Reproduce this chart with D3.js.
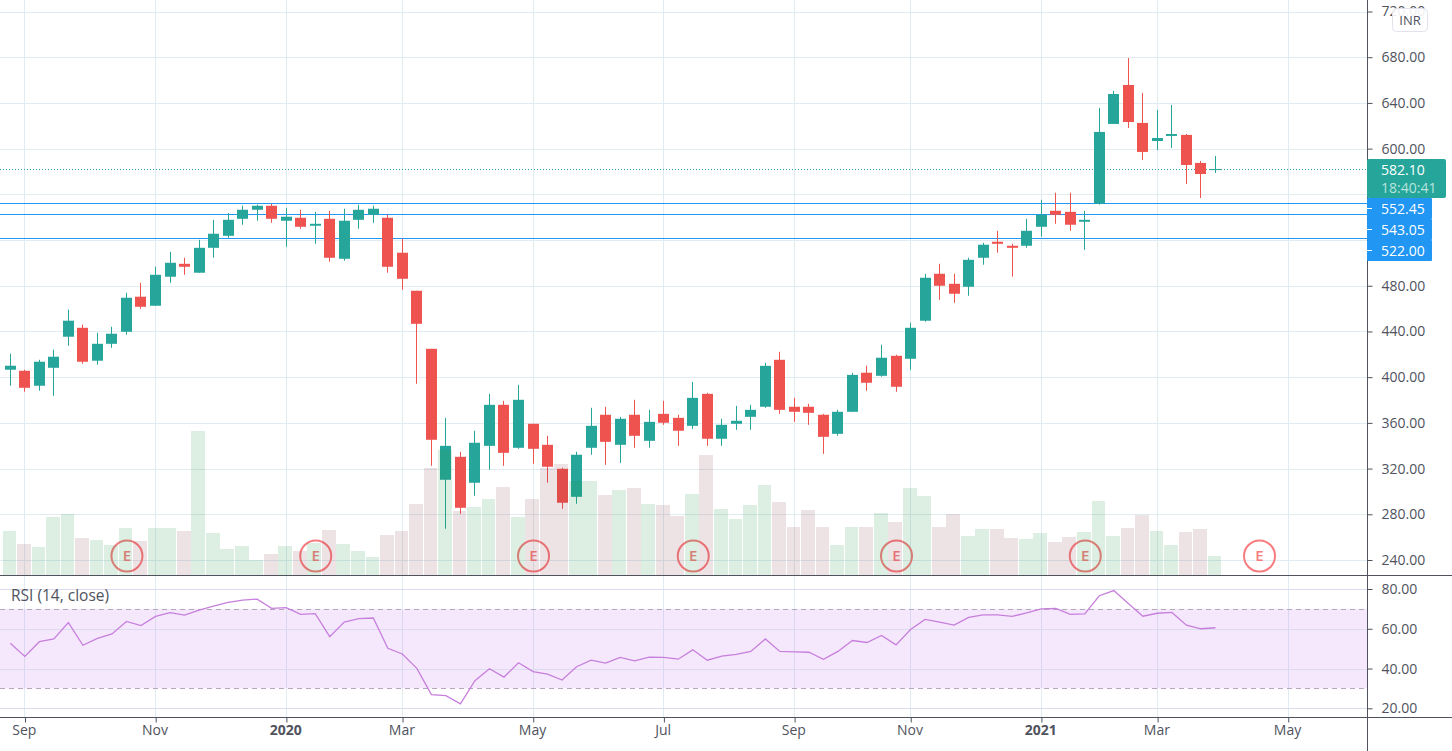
<!DOCTYPE html>
<html>
<head>
<meta charset="utf-8">
<script src="https://cdn.jsdelivr.net/npm/d3@7"></script>
<style>
  html, body { margin: 0; padding: 0; background: #fff; overflow: hidden; }
  text { font-family: "Open Sans", sans-serif; }
</style>
</head>
<body>
<div class="canvas"></div>
<script>
// weekly candles
const opens = [406.5,405.6,392.5,408.2,435.4,443.2,414.4,429.2,439.7,470.4,462.5,487.9,499.2,491.4,513.2,523.7,538.6,546.5,550,536.9,539.5,532.5,538.6,503.6,537.7,542.1,539.5,508.9,475.6,424.8,310.2,330.3,307.6,339.9,375.8,338.2,359.2,340.8,319.8,295.3,338.2,367.1,340.8,367.1,344.3,367.9,364.4,357.4,385.4,346.1,359.2,365.3,374.1,415.2,374.1,374.1,367.1,350.4,369.7,403.9,401.2,418.7,416.1,449.4,490.5,481.7,479.1,504.5,518.5,515,515,531.6,545.6,544.7,536,551.9,621.6,655.7,622.5,606.7,611.1,612,587.5,582]
const highs = [420.5,406.5,415.2,424,459,445.9,438.9,444.1,473.9,482.6,496.6,509.7,504.5,520.2,537.7,543.6,550,550.9,551.7,548.2,546.5,544.7,545.6,547.4,550.9,550,542.1,521.1,475.6,424.8,364.4,334.7,353.1,385.4,379.3,393.3,359.2,348.7,320.7,334.7,373.2,374.1,365.3,380.2,371.4,379.3,367.1,395.9,386.3,363.6,374.9,375.8,412.6,422.2,381.9,376.7,367.9,371.4,403.8,410,428.4,419.6,447.6,490.5,499.2,490.5,504.5,517.6,528.1,516.7,538.6,555.2,561.4,561.4,545.6,635.6,650.5,679.3,648.7,633.8,638.2,612.8,589.2,593.6]
const lows = [392.5,387.2,388.1,383.7,427.5,411.7,410.9,425.7,437.1,459.9,462.5,482.6,489.6,491.4,504.5,522,533.4,536.9,535.1,514.1,529.9,516.7,501,501.9,529.9,535.1,491.4,476.5,394.2,322.4,267.3,280.4,296.2,318.9,322.4,337.3,324.2,307.6,284.8,289.2,332.1,323.3,325,338.2,338.2,358.3,339.9,354.8,339.9,339.9,353.9,353.9,373.2,367.9,360.9,358.3,332.9,348.7,369.7,388.1,400.4,387.2,406.5,448.5,467.7,465.1,471.2,498.4,508.9,487.9,513.2,522.9,534.2,528.1,511.5,551,621.6,618.1,590.1,598.8,600.6,569.1,556.8,578.7]
const closes = [410,390.7,413.5,417.9,449.4,413.5,429.2,438,469.5,461.6,489.6,500.1,496.6,513.2,525.5,537.7,546.5,550,538.6,540.4,531.6,534.2,504.5,536.9,546.5,547.4,496.6,486.1,446.7,345.2,339.9,285.7,342.6,375.8,333.8,380.2,337.3,321.6,290.1,332.1,357.4,343.4,363.6,348.7,360.9,360.1,353.1,381.9,346.1,358.3,361.8,371.4,409.9,371.4,369.7,368.8,347.8,369.7,402,395.1,417,391.6,443.2,487,480,473,502.7,515.9,516.7,513.2,528.1,542.1,542.1,533.4,537.7,614.6,647.8,623.3,597.1,609.3,612.8,585.7,577.8,582.1]
const volumes = [44,31,28,58,61,37,35,30,47,34,47,47,44,144,42,26,29,15,21,29,24,32,45,31,24,18,40,44,71,107,125,64,68,76,88,58,76,107,111,94,94,80,85,87,71,70,59,81,120,66,56,70,90,73,48,65,48,30,48,48,62,53,87,79,48,61,39,46,46,37,36,42,33,38,43,74,39,47,60,44,30,43,46,19]
const rsi = [52.7,46.1,53.5,54.9,63.1,51.7,55.2,57.4,63.7,61.6,66.2,68.1,66.9,69.4,71.4,73.3,74.4,74.9,70.3,70.6,67.2,67.6,56,63.4,65.1,65.4,50.2,47.3,40.1,26.9,26.4,22.2,33.9,39.9,35.7,42.9,38.5,37.2,34.2,40.9,44.2,42.7,45.6,43.9,45.7,45.6,44.7,49.4,44.2,46.2,47.1,48.6,54.9,48.6,48.4,48.2,44.6,48.6,54.1,53.1,56.6,51.9,59.6,64.7,63.3,61.8,65.7,67,67,66.2,68,70,70.2,67.2,67.5,76.6,79.2,72.7,66.3,67.8,68.2,61.8,60,60.5]

const priceGrid = [720,680,640,600,560,520,480,440,400,360,320,280,240]
// 560 and 520 sit behind the price tags, so they get a grid line but no label
const priceTicks = [720,680,640,600,480,440,400,360,320,280,240]
const rsiTicks = [80,60,40,20]
const timeTicks = [1,10,19,27,36,45,54,62,71,79,88]
const timeLabels = ["Sep","Nov","2020","Mar","May","Jul","Sep","Nov","2021","Mar","May"]
const earnings = [8,21,36,47,61,74,86]
const levels = [552.45,543.05,522.00]
const lastPrice = 582.10
const countdown = "18:40:41"

const width = 1452, height = 751
const axisX = 1367, paneBottom = 575, rsiBottom = 717

const teal = "#26a69a", red = "#ef5350", blue = "#2196f3"
const gridColor = "#e1ecf2", axisColor = "#50535e"

const x = d3.scaleLinear().domain([0, 83]).range([10.3, 1215.46])
const y = d3.scaleLinear().domain([240, 720]).range([560, 11.5])
const yVol = d3.scaleLinear().domain([0, 144]).range([paneBottom, 431])
const yRsi = d3.scaleLinear().domain([20, 80]).range([708.3, 589])

const px = i => Math.floor(x(i)) + 0.5
const crisp = v => Math.round(v) + 0.5

const svg = d3.select(".canvas").append("svg")
    .attr("width", width)
    .attr("height", height)
    .style("display", "block")

// grid
const grid = svg.append("g").attr("stroke", gridColor).attr("stroke-width", 1)
grid.selectAll(".v").data(timeTicks).join("line")
    .attr("x1", d => px(d)).attr("x2", d => px(d))
    .attr("y1", 0).attr("y2", rsiBottom)
grid.selectAll(".h").data(priceGrid).join("line")
    .attr("x1", 0).attr("x2", axisX)
    .attr("y1", d => crisp(y(d))).attr("y2", d => crisp(y(d)))

// rsi band sits under its own grid
svg.append("rect")
    .attr("x", 0).attr("width", axisX)
    .attr("y", yRsi(70)).attr("height", yRsi(30) - yRsi(70))
    .attr("fill", "#a020f0").attr("fill-opacity", 0.1)
svg.append("g").selectAll("line").data(rsiTicks).join("line")
    .attr("x1", 0).attr("x2", axisX)
    .attr("y1", d => crisp(yRsi(d))).attr("y2", d => crisp(yRsi(d)))
    .attr("stroke", "#dcdcf0")
svg.append("g").selectAll("line").data([70, 30]).join("line")
    .attr("x1", 0).attr("x2", axisX)
    .attr("y1", d => crisp(yRsi(d))).attr("y2", d => crisp(yRsi(d)))
    .attr("stroke", "#b5a8bb").attr("stroke-dasharray", "5 4")

// last price line
svg.append("line")
    .attr("x1", 0).attr("x2", axisX)
    .attr("y1", crisp(y(lastPrice))).attr("y2", crisp(y(lastPrice)))
    .attr("stroke", teal).attr("stroke-dasharray", "1 2")

// support levels run behind the candles
svg.append("g").selectAll("line").data(levels).join("line")
    .attr("x1", 0).attr("x2", axisX)
    .attr("y1", d => crisp(y(d))).attr("y2", d => crisp(y(d)))
    .attr("stroke", blue)

// candles
const candles = svg.append("g")
const idx = d3.range(opens.length)
candles.selectAll(".wick").data(idx).join("line")
    .attr("x1", px).attr("x2", px)
    .attr("y1", i => y(highs[i])).attr("y2", i => y(lows[i]))
    .attr("stroke", i => closes[i] >= opens[i] ? teal : red)
candles.selectAll(".body").data(idx).join("rect")
    .attr("x", i => Math.floor(x(i)) - 5)
    .attr("width", 11)
    .attr("y", i => y(Math.max(opens[i], closes[i])))
    .attr("height", i => Math.max(1, Math.abs(y(opens[i]) - y(closes[i]))))
    .attr("fill", i => closes[i] >= opens[i] ? teal : red)

// earnings markers
const marks = svg.append("g").selectAll("g").data(earnings).join("g")
    .attr("transform", d => `translate(${x(d) + 0.5},556)`)
marks.append("circle")
    .attr("r", 15.5)
    .attr("fill", "none")
    .attr("stroke", "#f77c80").attr("stroke-width", 2)
marks.append("text")
    .attr("text-anchor", "middle").attr("dy", "0.36em")
    .attr("font-size", 15).attr("font-weight", 600)
    .attr("fill", "#f77c80")
    .text("E")

// volume goes over the candles, see-through
svg.append("g").selectAll("rect").data(idx).join("rect")
    .attr("x", i => Math.floor(x(i) - 7.3))
    .attr("width", i => Math.floor(x(i) + 6.5) - Math.floor(x(i) - 7.3))
    .attr("y", i => yVol(volumes[i]))
    .attr("height", i => paneBottom - yVol(volumes[i]))
    .attr("fill", i => closes[i] >= opens[i] ? "rgba(30,140,60,.15)" : "rgba(120,40,50,.13)")

// rsi line
svg.append("path")
    .datum(rsi)
    .attr("fill", "none")
    .attr("stroke", "#c77fdc")
    .attr("stroke-width", 1.3)
    .attr("d", d3.line().x((d, i) => x(i)).y(d => yRsi(d)))

svg.append("text")
    .attr("x", 11).attr("y", 601)
    .attr("font-size", 15.5).attr("fill", axisColor)
    .text("RSI (14, close)")

// pane borders
svg.append("line").attr("x1", 0).attr("x2", width).attr("y1", paneBottom + 0.5).attr("y2", paneBottom + 0.5).attr("stroke", axisColor)
svg.append("line").attr("x1", 0).attr("x2", width).attr("y1", rsiBottom + 0.5).attr("y2", rsiBottom + 0.5).attr("stroke", axisColor)

// axes
function styleAxis(g) {
    g.select(".domain").remove()
    g.selectAll(".tick line").attr("stroke", axisColor)
    g.selectAll(".tick text")
        .attr("fill", axisColor)
        .attr("font-size", 14)
        .attr("font-family", '"Open Sans", sans-serif')
}

svg.append("g")
    .attr("transform", `translate(${axisX + 0.5},0)`)
    .call(d3.axisRight(y).tickValues(priceTicks).tickSize(5).tickPadding(9).tickFormat(d3.format(".2f")))
    .call(styleAxis)
svg.append("g")
    .attr("transform", `translate(${axisX + 0.5},0)`)
    .call(d3.axisRight(yRsi).tickValues(rsiTicks).tickSize(5).tickPadding(9).tickFormat(d3.format(".2f")))
    .call(styleAxis)
svg.append("line").attr("x1", axisX + 0.5).attr("x2", axisX + 0.5).attr("y1", 0).attr("y2", height).attr("stroke", axisColor)

const xAxis = svg.append("g")
    .attr("transform", `translate(0,${rsiBottom + 0.5})`)
    .call(d3.axisBottom(x).tickValues(timeTicks).tickSize(5).tickPadding(3)
        .tickFormat(d => timeLabels[timeTicks.indexOf(d)]))
    .call(styleAxis)
xAxis.selectAll(".tick line").attr("x1", 0.2).attr("x2", 0.2)
xAxis.selectAll(".tick text")
    .attr("dx", -1)
    .attr("font-weight", d => /^20/.test(timeLabels[timeTicks.indexOf(d)]) ? 700 : 400)

// price labels on the axis
svg.append("rect")
    .attr("x", axisX).attr("y", 159).attr("width", 79).attr("height", 39).attr("rx", 2)
    .attr("fill", teal)
svg.append("text")
    .attr("x", axisX + 14).attr("y", 175)
    .attr("font-size", 14).attr("fill", "#fff")
    .text(d3.format(".2f")(lastPrice))
svg.append("text")
    .attr("x", axisX + 14).attr("y", 193)
    .attr("font-size", 14).attr("fill", "#b8e3dc")
    .text(countdown)

const levelTags = svg.append("g").selectAll("g").data(levels).join("g")
    .attr("transform", (d, i) => `translate(${axisX},${198 + i * 21})`)
levelTags.append("rect")
    .attr("width", 65).attr("height", 21).attr("rx", 1)
    .attr("fill", blue)
levelTags.append("line")
    .attr("x1", 0).attr("x2", 5).attr("y1", 10.5).attr("y2", 10.5)
    .attr("stroke", "#fff")
levelTags.append("text")
    .attr("x", 14).attr("y", 16)
    .attr("font-size", 14).attr("fill", "#fff")
    .text(d => d3.format(".2f")(d))

// currency button
svg.append("rect")
    .attr("x", 1392.5).attr("y", 8.5).attr("width", 35).attr("height", 23).attr("rx", 4)
    .attr("fill", "#fff").attr("fill-opacity", 0.9)
    .attr("stroke", "#e0e3eb")
svg.append("text")
    .attr("x", 1410).attr("y", 25)
    .attr("text-anchor", "middle")
    .attr("font-size", 13).attr("fill", axisColor)
    .text("INR")
</script>
</body>
</html>
